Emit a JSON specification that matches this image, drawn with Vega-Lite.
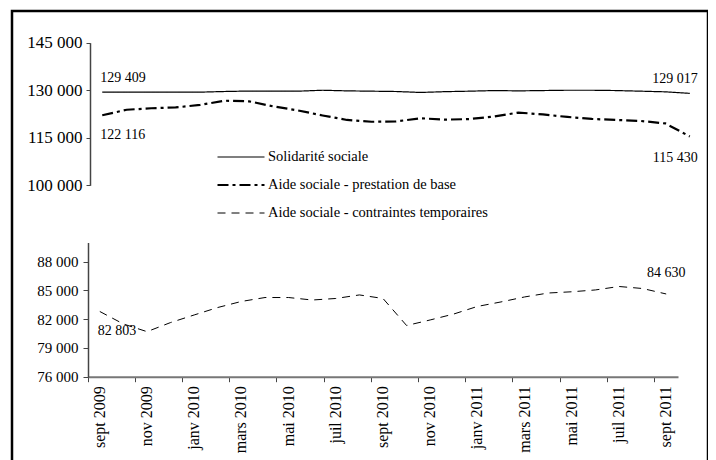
{
  "$schema": "https://vega.github.io/schema/vega-lite/v6.json",
  "width": 696,
  "height": 451,
  "autosize": {"type": "none"},
  "padding": {"left": 12, "top": 11, "right": 0, "bottom": 0},
  "background": "white",
  "config": {
    "font": "Liberation Serif",
    "view": {"stroke": "black", "strokeWidth": 2.5},
    "mark": {"color": "black"},
    "locale": {"number": {"decimal": ",", "thousands": " ", "grouping": [3], "currency": ["", " €"]}},
    "axis": {"grid": false, "labelColor": "black", "labelFont": "Liberation Serif", "labelFontSize": 15, "title": null, "labelOverlap": false, "labelFlush": false, "labelBound": false}
  },
  "datasets": {
    "haut": [
      {"mois": "sept 2009", "serie": "Solidarité sociale", "valeur": 129409},
      {"mois": "oct 2009", "serie": "Solidarité sociale", "valeur": 129400},
      {"mois": "nov 2009", "serie": "Solidarité sociale", "valeur": 129400},
      {"mois": "déc 2009", "serie": "Solidarité sociale", "valeur": 129400},
      {"mois": "janv 2010", "serie": "Solidarité sociale", "valeur": 129400},
      {"mois": "févr 2010", "serie": "Solidarité sociale", "valeur": 129600},
      {"mois": "mars 2010", "serie": "Solidarité sociale", "valeur": 129750},
      {"mois": "avr 2010", "serie": "Solidarité sociale", "valeur": 129750},
      {"mois": "mai 2010", "serie": "Solidarité sociale", "valeur": 129700},
      {"mois": "juin 2010", "serie": "Solidarité sociale", "valeur": 130000},
      {"mois": "juil 2010", "serie": "Solidarité sociale", "valeur": 129800},
      {"mois": "août 2010", "serie": "Solidarité sociale", "valeur": 129700},
      {"mois": "sept 2010", "serie": "Solidarité sociale", "valeur": 129600},
      {"mois": "oct 2010", "serie": "Solidarité sociale", "valeur": 129300},
      {"mois": "nov 2010", "serie": "Solidarité sociale", "valeur": 129550},
      {"mois": "déc 2010", "serie": "Solidarité sociale", "valeur": 129700},
      {"mois": "janv 2011", "serie": "Solidarité sociale", "valeur": 129900},
      {"mois": "févr 2011", "serie": "Solidarité sociale", "valeur": 129800},
      {"mois": "mars 2011", "serie": "Solidarité sociale", "valeur": 129900},
      {"mois": "avr 2011", "serie": "Solidarité sociale", "valeur": 130000},
      {"mois": "mai 2011", "serie": "Solidarité sociale", "valeur": 130000},
      {"mois": "juin 2011", "serie": "Solidarité sociale", "valeur": 129900},
      {"mois": "juil 2011", "serie": "Solidarité sociale", "valeur": 129700},
      {"mois": "août 2011", "serie": "Solidarité sociale", "valeur": 129500},
      {"mois": "sept 2011", "serie": "Solidarité sociale", "valeur": 129017},
      {"mois": "sept 2009", "serie": "Aide sociale - prestation de base", "valeur": 122116},
      {"mois": "oct 2009", "serie": "Aide sociale - prestation de base", "valeur": 123840},
      {"mois": "nov 2009", "serie": "Aide sociale - prestation de base", "valeur": 124310},
      {"mois": "déc 2009", "serie": "Aide sociale - prestation de base", "valeur": 124570},
      {"mois": "janv 2010", "serie": "Aide sociale - prestation de base", "valeur": 125360},
      {"mois": "févr 2010", "serie": "Aide sociale - prestation de base", "valeur": 126700},
      {"mois": "mars 2010", "serie": "Aide sociale - prestation de base", "valeur": 126500},
      {"mois": "avr 2010", "serie": "Aide sociale - prestation de base", "valeur": 124880},
      {"mois": "mai 2010", "serie": "Aide sociale - prestation de base", "valeur": 123620},
      {"mois": "juin 2010", "serie": "Aide sociale - prestation de base", "valeur": 122040},
      {"mois": "juil 2010", "serie": "Aide sociale - prestation de base", "valeur": 120620},
      {"mois": "août 2010", "serie": "Aide sociale - prestation de base", "valeur": 120050},
      {"mois": "sept 2010", "serie": "Aide sociale - prestation de base", "valeur": 120150},
      {"mois": "oct 2010", "serie": "Aide sociale - prestation de base", "valeur": 121160},
      {"mois": "nov 2010", "serie": "Aide sociale - prestation de base", "valeur": 120710},
      {"mois": "déc 2010", "serie": "Aide sociale - prestation de base", "valeur": 120900},
      {"mois": "janv 2011", "serie": "Aide sociale - prestation de base", "valeur": 121700},
      {"mois": "févr 2011", "serie": "Aide sociale - prestation de base", "valeur": 122950},
      {"mois": "mars 2011", "serie": "Aide sociale - prestation de base", "valeur": 122360},
      {"mois": "avr 2011", "serie": "Aide sociale - prestation de base", "valeur": 121570},
      {"mois": "mai 2011", "serie": "Aide sociale - prestation de base", "valeur": 120940},
      {"mois": "juin 2011", "serie": "Aide sociale - prestation de base", "valeur": 120620},
      {"mois": "juil 2011", "serie": "Aide sociale - prestation de base", "valeur": 120300},
      {"mois": "août 2011", "serie": "Aide sociale - prestation de base", "valeur": 119520},
      {"mois": "sept 2011", "serie": "Aide sociale - prestation de base", "valeur": 115430}
    ],
    "bas": [
      {"mois": "sept 2009", "serie": "Aide sociale - contraintes temporaires", "valeur": 82803},
      {"mois": "oct 2009", "serie": "Aide sociale - contraintes temporaires", "valeur": 81500},
      {"mois": "nov 2009", "serie": "Aide sociale - contraintes temporaires", "valeur": 80700},
      {"mois": "déc 2009", "serie": "Aide sociale - contraintes temporaires", "valeur": 81650},
      {"mois": "janv 2010", "serie": "Aide sociale - contraintes temporaires", "valeur": 82440},
      {"mois": "févr 2010", "serie": "Aide sociale - contraintes temporaires", "valeur": 83220},
      {"mois": "mars 2010", "serie": "Aide sociale - contraintes temporaires", "valeur": 83850},
      {"mois": "avr 2010", "serie": "Aide sociale - contraintes temporaires", "valeur": 84260},
      {"mois": "mai 2010", "serie": "Aide sociale - contraintes temporaires", "valeur": 84260},
      {"mois": "juin 2010", "serie": "Aide sociale - contraintes temporaires", "valeur": 84000},
      {"mois": "juil 2010", "serie": "Aide sociale - contraintes temporaires", "valeur": 84160},
      {"mois": "août 2010", "serie": "Aide sociale - contraintes temporaires", "valeur": 84530},
      {"mois": "sept 2010", "serie": "Aide sociale - contraintes temporaires", "valeur": 84160},
      {"mois": "oct 2010", "serie": "Aide sociale - contraintes temporaires", "valeur": 81340},
      {"mois": "nov 2010", "serie": "Aide sociale - contraintes temporaires", "valeur": 81920},
      {"mois": "déc 2010", "serie": "Aide sociale - contraintes temporaires", "valeur": 82540},
      {"mois": "janv 2011", "serie": "Aide sociale - contraintes temporaires", "valeur": 83330},
      {"mois": "févr 2011", "serie": "Aide sociale - contraintes temporaires", "valeur": 83800},
      {"mois": "mars 2011", "serie": "Aide sociale - contraintes temporaires", "valeur": 84320},
      {"mois": "avr 2011", "serie": "Aide sociale - contraintes temporaires", "valeur": 84730},
      {"mois": "mai 2011", "serie": "Aide sociale - contraintes temporaires", "valeur": 84860},
      {"mois": "juin 2011", "serie": "Aide sociale - contraintes temporaires", "valeur": 85050},
      {"mois": "juil 2011", "serie": "Aide sociale - contraintes temporaires", "valeur": 85410},
      {"mois": "août 2011", "serie": "Aide sociale - contraintes temporaires", "valeur": 85200},
      {"mois": "sept 2011", "serie": "Aide sociale - contraintes temporaires", "valeur": 84630}
    ]
  },
  "layer": [
    {
      "data": {"name": "haut"},
      "encoding": {
        "x": {
          "field": "mois", "type": "nominal", "bandPosition": 0.5,
          "scale": {"type": "band", "paddingInner": 0, "paddingOuter": 0, "range": [78, 690],
            "domain": ["sept 2009","oct 2009","nov 2009","déc 2009","janv 2010","févr 2010","mars 2010","avr 2010","mai 2010","juin 2010","juil 2010","août 2010","sept 2010","oct 2010","nov 2010","déc 2010","janv 2011","févr 2011","mars 2011","avr 2011","mai 2011","juin 2011","juil 2011","août 2011","sept 2011"]},
          "axis": null
        },
        "y": {
          "field": "valeur", "type": "quantitative",
          "scale": {"domain": [100000, 145000], "range": [174.3, 31.7], "nice": false, "zero": false},
          "axis": {"orient": "left", "offset": -78, "values": [100000, 115000, 130000, 145000], "format": ",d", "domainColor": "#444", "domainWidth": 1.5, "tickColor": "#444", "tickSize": 4, "labelPadding": 4, "labelFontSize": 17}
        }
      },
      "layer": [
        {
          "mark": {"type": "line", "color": "black", "strokeCap": "butt"},
          "encoding": {
            "strokeDash": {
              "field": "serie", "type": "nominal",
              "scale": {"domain": ["Solidarité sociale", "Aide sociale - prestation de base", "Aide sociale - contraintes temporaires"], "range": [[1, 0], [11, 4, 3, 4], [8, 6]]},
              "legend": {"orient": "none", "legendX": 204, "legendY": 139, "title": null, "symbolType": "stroke", "symbolSize": 2209, "symbolStrokeColor": "black", "symbolStrokeWidth": 1.4, "labelFontSize": 14.5, "labelOffset": 2, "clipHeight": 14, "rowPadding": 13, "padding": 0, "labelLimit": 400, "labelColor": "black"}
            },
            "strokeWidth": {
              "field": "serie", "type": "nominal",
              "scale": {"type": "ordinal", "domain": ["Solidarité sociale", "Aide sociale - prestation de base", "Aide sociale - contraintes temporaires"], "range": [1.2, 2.2, 1]},
              "legend": null
            }
          }
        },
        {
          "transform": [{"filter": {"and": [{"field": "serie", "equal": "Solidarité sociale"}, {"field": "mois", "equal": "sept 2009"}]}}],
          "mark": {"type": "text", "align": "left", "baseline": "middle", "dx": -2, "dy": -14, "fontSize": 14, "color": "black"},
          "encoding": {"text": {"field": "valeur", "type": "quantitative", "format": ",d"}}
        },
        {
          "transform": [{"filter": {"and": [{"field": "serie", "equal": "Solidarité sociale"}, {"field": "mois", "equal": "sept 2011"}]}}],
          "mark": {"type": "text", "align": "right", "baseline": "middle", "dx": 8, "dy": -14, "fontSize": 14, "color": "black"},
          "encoding": {"text": {"field": "valeur", "type": "quantitative", "format": ",d"}}
        },
        {
          "transform": [{"filter": {"and": [{"field": "serie", "equal": "Aide sociale - prestation de base"}, {"field": "mois", "equal": "sept 2009"}]}}],
          "mark": {"type": "text", "align": "left", "baseline": "middle", "dx": -2, "dy": 20, "fontSize": 14, "color": "black"},
          "encoding": {"text": {"field": "valeur", "type": "quantitative", "format": ",d"}}
        },
        {
          "transform": [{"filter": {"and": [{"field": "serie", "equal": "Aide sociale - prestation de base"}, {"field": "mois", "equal": "sept 2011"}]}}],
          "mark": {"type": "text", "align": "right", "baseline": "middle", "dx": 8, "dy": 22, "fontSize": 14, "color": "black"},
          "encoding": {"text": {"field": "valeur", "type": "quantitative", "format": ",d"}}
        }
      ]
    },
    {
      "data": {"name": "bas"},
      "encoding": {
        "x": {
          "field": "mois", "type": "nominal", "bandPosition": 0.5,
          "scale": {"type": "band", "paddingInner": 0, "paddingOuter": 0, "range": [76, 666],
            "domain": ["sept 2009","oct 2009","nov 2009","déc 2009","janv 2010","févr 2010","mars 2010","avr 2010","mai 2010","juin 2010","juil 2010","août 2010","sept 2010","oct 2010","nov 2010","déc 2010","janv 2011","févr 2011","mars 2011","avr 2011","mai 2011","juin 2011","juil 2011","août 2011","sept 2011"]},
          "axis": {"orient": "bottom", "offset": -85.3, "values": ["sept 2009","nov 2009","janv 2010","mars 2010","mai 2010","juil 2010","sept 2010","nov 2010","janv 2011","mars 2011","mai 2011","juil 2011","sept 2011"], "bandPosition": 0, "labelAngle": 270, "labelPadding": 4, "tickSize": 5, "domainColor": "#777", "domainWidth": 2, "tickColor": "#444", "labelFontSize": 16}
        },
        "y": {
          "field": "valeur", "type": "quantitative",
          "scale": {"domain": [76000, 90000], "range": [365.7, 231.5], "nice": false, "zero": false},
          "axis": {"orient": "left", "offset": -76, "values": [76000, 79000, 82000, 85000, 88000], "format": ",d", "domainColor": "#444", "domainWidth": 1.5, "tickColor": "#444", "tickSize": 5, "labelPadding": 5}
        }
      },
      "layer": [
        {
          "mark": {"type": "line", "color": "black", "strokeCap": "butt"},
          "encoding": {
            "strokeDash": {
              "field": "serie", "type": "nominal",
              "scale": {"domain": ["Solidarité sociale", "Aide sociale - prestation de base", "Aide sociale - contraintes temporaires"], "range": [[1, 0], [11, 4, 3, 4], [8, 6]]},
              "legend": {"orient": "none", "legendX": 204, "legendY": 139, "title": null, "symbolType": "stroke", "symbolSize": 2209, "symbolStrokeColor": "black", "symbolStrokeWidth": 1.4, "labelFontSize": 14.5, "labelOffset": 2, "clipHeight": 14, "rowPadding": 13, "padding": 0, "labelLimit": 400, "labelColor": "black"}
            },
            "strokeWidth": {
              "field": "serie", "type": "nominal",
              "scale": {"type": "ordinal", "domain": ["Solidarité sociale", "Aide sociale - prestation de base", "Aide sociale - contraintes temporaires"], "range": [1.2, 2.2, 1]},
              "legend": null
            }
          }
        },
        {
          "transform": [{"filter": {"field": "mois", "equal": "sept 2009"}}],
          "mark": {"type": "text", "align": "left", "baseline": "middle", "dx": -2, "dy": 20, "fontSize": 14, "color": "black"},
          "encoding": {"text": {"field": "valeur", "type": "quantitative", "format": ",d"}}
        },
        {
          "transform": [{"filter": {"field": "mois", "equal": "sept 2011"}}],
          "mark": {"type": "text", "align": "center", "baseline": "middle", "dy": -21, "fontSize": 14, "color": "black"},
          "encoding": {"text": {"field": "valeur", "type": "quantitative", "format": ",d"}}
        }
      ]
    }
  ],
  "resolve": {
    "scale": {"x": "independent", "y": "independent"},
    "axis": {"x": "independent", "y": "independent"}
  }
}
